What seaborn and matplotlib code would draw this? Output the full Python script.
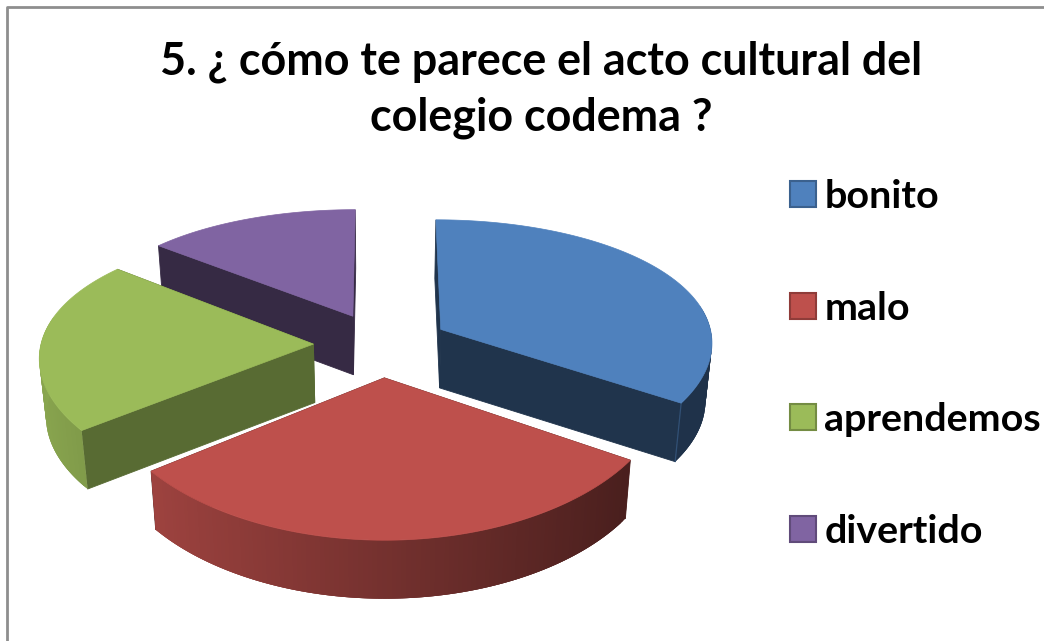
import numpy as np
import matplotlib
matplotlib.use("Agg")
import matplotlib.pyplot as plt
from matplotlib.patches import Patch
import seaborn as sns

# ---- data ----
title = "5. ¿ cómo te parece el acto cultural del\ncolegio codema ?"
categories = ["bonito", "malo", "aprendemos", "divertido"]
shares = [34.2, 30.3, 21.4, 14.1]
colors = ["#4F81BD", "#BE504C", "#9BBB59", "#8064A2"]

sns.set_theme(style="white")
plt.rcParams["font.family"] = ["Lato", "DejaVu Sans"]
palette = sns.color_palette(colors)

# ---- projection of the tilted pie, in pixels of the figure ----
CX, CY = 381.5, 344.5
RX, RY = 272.5, 129.0
PERSP_X, PERSP_Y = 0.09, 0.141
EXPLODE = 0.25
DEPTH = 58.5
BOTTOM_SCALE = 0.98
face_shade = [0.40, 0.40, 0.57, 0.42]   # cut faces


def band_shade(th):
    return np.clip(0.615 - 0.272 * np.sin(th), 0.39, 0.89)


def project(x, y):
    return CX + RX * x / (1 + PERSP_X * y), CY - RY * y / (1 + PERSP_Y * y)


def bottom(sx, sy):
    return CX + (sx - CX) * BOTTOM_SCALE, sy + DEPTH


def mix(c, f):
    return tuple(np.array(c) * f)


fig = plt.figure(figsize=(10.44, 6.41), dpi=100, facecolor="white")
ax = fig.add_axes([0, 0, 1, 1])
ax.set_xlim(0, 1044)
ax.set_ylim(641, 0)
ax.axis("off")

# frame of the chart (runs off the right and lower edge)
ax.plot([1044, 7, 7], [7, 7, 641], color="#8E8E8E", lw=2, solid_capstyle="butt")

edges = np.radians(np.concatenate([[0], np.cumsum(shares)]) / np.sum(shares) * 360)
wedges = []
for i, (a, b) in enumerate(zip(edges[:-1], edges[1:])):
    m = (a + b) / 2
    wedges.append((a, b, EXPLODE * np.sin(m), EXPLODE * np.cos(m)))

# painter's order: back wedges first
for i in [3, 0, 2, 1]:
    a, b, ox, oy = wedges[i]
    col = palette[i]
    th = np.linspace(a, b, 121)
    rim_x, rim_y = project(ox + np.sin(th), oy + np.cos(th))
    ap_x, ap_y = project(ox, oy)
    brim_x, brim_y = bottom(rim_x, rim_y)
    bap_x, bap_y = bottom(ap_x, ap_y)

    # cut faces
    for k in (0, -1):
        ax.fill([ap_x, rim_x[k], brim_x[k], bap_x], [ap_y, rim_y[k], brim_y[k], bap_y],
                color=mix(col, face_shade[i]), lw=0.6, zorder=2)
    # outer band, shaded by its direction; only the part that faces the viewer.
    # Each strip overlaps the next so that no seams show.
    for j in range(len(th) - 1):
        if np.cos(th[j]) > 0.2:
            continue
        e = min(j + 3, len(th) - 1)
        ax.fill([rim_x[j], rim_x[e], brim_x[e], brim_x[j]],
                [rim_y[j], rim_y[e], brim_y[e], brim_y[j]],
                color=mix(col, band_shade(th[j])), lw=0, zorder=2)
    # thin light edge on the blue corner
    if i == 0:
        ax.plot([rim_x[-1], brim_x[-1]], [rim_y[-1], brim_y[-1]],
                color=mix(col, 0.62), lw=0.9, zorder=2)
    # top
    ax.fill(np.r_[ap_x, rim_x], np.r_[ap_y, rim_y], color=col, lw=0.5, zorder=2)

ax.text(541, 90, title, ha="center", va="center", fontsize=32.3, fontweight="bold",
        color="black", linespacing=1.41)

handles = [Patch(facecolor=c, edgecolor=mix(c, 0.75), lw=1.5) for c in palette]
ax.legend(handles, categories, loc="upper left", bbox_to_anchor=(0.757, 0.7205),
          frameon=False, prop={"family": "Lato", "weight": "bold", "size": 28.4},
          labelcolor="black", handlelength=0.64, handleheight=0.64, handletextpad=0.22,
          labelspacing=1.94, borderpad=0, borderaxespad=0)

fig.savefig("out.png", dpi=100)
